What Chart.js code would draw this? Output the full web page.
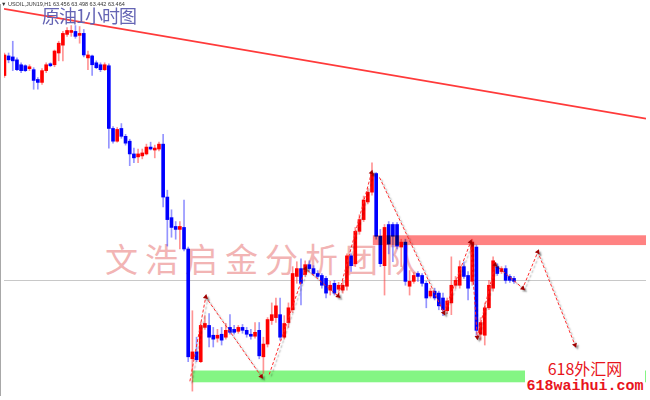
<!DOCTYPE html>
<html><head><meta charset="utf-8">
<script src="https://cdn.jsdelivr.net/npm/chart.js@4/dist/chart.umd.min.js"></script>
<style>
html,body{margin:0;padding:0;background:#fff;}
#wrap{position:relative;width:650px;height:400px;overflow:hidden;background:#fff;}
#wm{position:absolute;left:105px;top:242px;font-family:"Noto Sans CJK SC";font-size:33px;color:#f2b4b4;letter-spacing:7px;white-space:nowrap;z-index:0;line-height:1;}
canvas{position:absolute;left:0;top:0;z-index:1;}
#title{position:absolute;left:42px;top:6px;font-size:18px;letter-spacing:-1px;color:#6464b4;z-index:3;font-family:"Noto Sans CJK SC";line-height:1;white-space:nowrap;}
#hdr{position:absolute;left:1px;top:0px;font-size:5.5px;font-family:"Liberation Sans";color:#333;z-index:3;white-space:nowrap;line-height:8px;}
#site{position:absolute;left:525px;top:355px;width:120px;height:45px;background:#fff;z-index:3;color:#e8141c;}
#s1{position:absolute;left:0;width:120px;top:5px;text-align:center;font-family:"Noto Sans CJK SC";font-size:16px;line-height:1;}
#s2{position:absolute;left:0;width:120px;top:24px;text-align:center;font-family:"Liberation Mono";font-weight:bold;font-size:15px;line-height:1;}
</style></head>
<body>
<div id="wrap">
  <div id="wm">文浩启金分析团队</div>
  <canvas id="c" width="650" height="400"></canvas>
  <div id="hdr">▼ USOIL,JUN19,H1  63.456 63.498 63.442 63.464</div>
  <div id="title">原油1小时图</div>
  <div id="site"><div id="s1">618外汇网</div><div id="s2">618waihui.com</div></div>
</div>
<script>
// ---- candle data (USOIL H1) ----
const open  = [65.55,65.75,65.74,65.71,65.66,65.65,65.62,65.61,65.51,65.48,65.60,65.67,65.66,65.78,65.86,65.97,65.99,66.00,65.96,65.98,
65.73,65.75,65.68,65.66,65.61,65.65,65.01,64.88,65.01,64.93,64.88,64.75,64.72,64.73,64.75,64.82,64.79,64.80,64.85,64.31,
64.10,64.01,63.98,64.00,63.78,62.66,62.73,62.63,62.98,63.00,62.90,62.87,62.91,62.88,62.98,62.96,62.94,62.98,62.95,62.91,
62.89,62.95,62.68,62.81,63.05,63.08,63.11,62.88,63.03,63.16,63.50,63.58,63.52,63.62,63.58,63.53,63.51,63.48,63.36,63.43,
63.37,63.36,63.40,63.71,63.63,63.96,64.08,64.26,64.36,64.55,63.91,63.61,64.03,64.03,64.03,63.80,63.85,63.40,63.45,63.53,
63.51,63.43,63.30,63.35,63.33,63.28,63.15,63.23,63.41,63.41,63.60,63.51,63.45,63.80,62.91,62.90,63.18,63.38,63.60,63.55,
63.58,63.50,63.48];
const high  = [65.78,65.78,65.90,65.73,65.68,65.66,65.66,65.63,65.53,65.62,65.68,65.68,65.81,65.90,66.00,66.04,66.06,66.06,66.05,66.02,
65.80,65.76,65.70,65.68,65.68,65.67,65.03,65.02,65.06,64.95,64.90,64.81,64.80,64.80,64.85,64.87,64.84,64.87,64.95,64.38,
64.18,64.06,64.06,64.28,63.80,63.15,62.88,63.03,63.10,63.12,62.98,62.96,62.98,63.02,63.11,63.00,63.00,63.01,62.98,62.96,
63.03,63.03,62.88,63.08,63.23,63.28,63.28,63.10,63.23,63.60,63.65,63.68,63.66,63.66,63.61,63.56,63.53,63.50,63.45,63.46,
63.44,63.46,63.73,63.73,64.00,64.13,64.32,64.40,64.66,64.56,63.98,64.03,64.06,64.05,64.05,63.88,63.88,63.56,63.54,63.55,
63.53,63.45,63.38,63.38,63.35,63.33,63.28,63.70,63.50,63.66,63.65,63.55,63.88,63.82,63.08,63.23,63.46,63.70,63.63,63.60,
63.61,63.52,63.50];
const low   = [65.53,65.68,65.60,65.60,65.58,65.59,65.60,65.41,65.41,65.46,65.58,65.64,65.64,65.70,65.70,65.95,65.95,65.93,65.88,65.74,
65.61,65.55,65.62,65.59,65.60,64.81,64.86,64.87,64.91,64.84,64.63,64.66,64.66,64.70,64.74,64.79,64.71,64.78,64.21,63.81,
63.90,63.88,63.78,63.76,62.63,62.33,62.63,62.62,62.96,62.78,62.78,62.83,62.80,62.86,62.91,62.91,62.92,62.92,62.88,62.86,
62.87,62.66,62.51,62.78,63.01,63.03,62.85,62.86,62.98,63.13,63.43,63.21,63.50,63.56,63.51,63.48,63.38,63.28,63.31,63.31,
63.31,63.33,63.36,63.55,63.60,63.93,64.06,64.24,64.33,63.88,63.60,63.31,63.73,63.65,63.78,63.60,63.41,63.31,63.43,63.45,
63.40,63.18,63.28,63.26,63.16,63.10,63.12,63.11,63.38,63.38,63.48,63.26,63.41,62.90,62.85,62.80,63.16,63.35,63.51,63.53,
63.43,63.44,63.43];
const close = [65.76,65.71,65.70,65.61,65.60,65.60,65.64,65.50,65.48,65.60,65.66,65.65,65.80,65.88,65.98,66.01,66.01,65.95,65.98,65.76,
65.76,65.66,65.63,65.61,65.66,65.01,64.88,65.00,64.93,64.86,64.75,64.71,64.75,64.76,64.82,64.80,64.81,64.85,64.31,64.08,
64.00,63.98,64.01,63.78,62.68,62.73,62.65,63.00,63.02,62.88,62.86,62.90,62.85,62.95,62.93,62.93,62.98,62.95,62.91,62.89,
62.93,62.69,62.81,63.06,63.11,63.20,62.88,63.02,63.18,63.53,63.58,63.43,63.62,63.58,63.53,63.50,63.41,63.33,63.41,63.33,
63.41,63.41,63.71,63.61,63.96,64.08,64.28,64.36,64.55,63.91,63.63,64.00,63.83,63.91,63.81,63.85,63.45,63.45,63.51,63.50,
63.43,63.28,63.35,63.28,63.20,63.16,63.25,63.41,63.46,63.60,63.50,63.38,63.85,62.95,63.03,63.18,63.41,63.66,63.53,63.58,
63.46,63.46,63.45];

// ---- drawn objects ----
const currentPrice = 63.46;
const trendX = [-0.1, 153.6];
const trendY = [66.23, 65.11];
const resistX = [88.2, 153.6];
const resistY = [63.82, 63.92];
const supportX = [44.9, 153.6];
const supportY = [62.42, 62.54];
const projAX = [44.4, 48.2, 61.5];
const projAY = [62.43, 63.29, 62.48];
const projBX = [63.4, 72.1, 79.9, 87.9];
const projBY = [62.50, 63.58, 63.30, 64.56];
const projCX = [89.8, 105.2, 111.6, 113.2, 117.5, 124.1, 127.7, 136.6];
const projCY = [64.51, 63.13, 63.85, 62.88, 63.62, 63.38, 63.75, 62.80];

const UP = '#ff0000', DOWN = '#0000ff';
const UPW = 'rgba(255,60,60,0.55)', DOWNW = 'rgba(60,60,255,0.55)';

const idx = open.map((_, i) => i);
const isUp = idx.map(i => close[i] >= open[i]);
const wickData = idx.map(i => ({x: i, y: [low[i], high[i]]}));
const bodyData = idx.map(i => ({x: i, y: [open[i], close[i]]}));

function pts(xs, ys){ return xs.map((x, i) => ({x: x, y: ys[i]})); }

function arrowRot(ctx){
  const ds = ctx.dataset, i = ctx.dataIndex, ch = ctx.chart;
  if (!ds || i === 0) return 0;
  const xs = ch.scales.x, ys = ch.scales.y;
  const p0 = ds.data[i-1], p1 = ds.data[i];
  const dx = xs.getPixelForValue(p1.x) - xs.getPixelForValue(p0.x);
  const dy = ys.getPixelForValue(p1.y) - ys.getPixelForValue(p0.y);
  return Math.atan2(dx, -dy) * 180 / Math.PI;
}

function projDataset(xs, ys){
  return {
    type: 'line', data: pts(xs, ys), shadow: true, order: 1,
    borderColor: '#ff2a2a', borderWidth: 1, borderDash: [3, 2],
    pointStyle: 'triangle', rotation: arrowRot,
    pointRadius: ctx => ctx.dataIndex === 0 ? 0 : 3,
    pointBackgroundColor: '#a00000', pointBorderWidth: 0,
    tension: 0, fill: false
  };
}

function zoneRect(scX, scY, xr, yr){
  const x0 = scX.getPixelForValue(xr[0]), x1 = scX.getPixelForValue(xr[1]);
  const y0 = scY.getPixelForValue(yr[1]), y1 = scY.getPixelForValue(yr[0]);
  return [x0, y0, x1 - x0, y1 - y0];
}

const bgPlugin = {
  id: 'bgPlugin',
  beforeDatasetsDraw(chart){
    const {ctx, chartArea: a, scales: {x, y}} = chart;
    ctx.save();
    const py = Math.round(y.getPixelForValue(currentPrice)) + 0.5;
    ctx.strokeStyle = '#c8c8c8'; ctx.lineWidth = 1;
    ctx.beginPath(); ctx.moveTo(a.left, py); ctx.lineTo(a.right, py); ctx.stroke();
    ctx.fillStyle = '#84f584';
    ctx.fillRect(...zoneRect(x, y, supportX, supportY));
    ctx.strokeStyle = '#a8a8a8';
    ctx.beginPath(); ctx.moveTo(0.5, a.top); ctx.lineTo(0.5, a.bottom); ctx.stroke();
    ctx.restore();
  },
  beforeDatasetDraw(chart, args){
    const ds = chart.data.datasets[args.index];
    const {ctx, scales: {x, y}} = chart;
    if (ds.zoneBefore){
      ctx.save();
      ctx.globalCompositeOperation = 'multiply';
      ctx.fillStyle = '#ff8282';
      ctx.fillRect(...zoneRect(x, y, resistX, resistY));
      ctx.restore();
    }
    if (ds.shadow){
      ctx.save();
      ctx.shadowColor = 'rgba(0,0,0,0.35)'; ctx.shadowOffsetX = 2; ctx.shadowOffsetY = 2; ctx.shadowBlur = 1.5;
    }
  },
  afterDatasetDraw(chart, args){
    const ds = chart.data.datasets[args.index];
    if (ds.shadow) chart.ctx.restore();
  }
};

new Chart(document.getElementById('c'), {
  type: 'bar',
  data: {
    datasets: [
      { type: 'line', data: pts(trendX, trendY), borderColor: '#ff3a3a', borderWidth: 1.6, pointRadius: 0, order: 0, fill: false },
      projDataset(projAX, projAY),
      projDataset(projBX, projBY),
      Object.assign(projDataset(projCX, projCY), { zoneBefore: true }),
      { data: bodyData, backgroundColor: idx.map(i => isUp[i] ? UP : DOWN), barThickness: 3, grouped: false, order: 2, borderWidth: 0, borderSkipped: false },
      { data: wickData, backgroundColor: idx.map(i => isUp[i] ? UPW : DOWNW), barThickness: 1, grouped: false, order: 3, borderWidth: 0, borderSkipped: false }
    ]
  },
  options: {
    responsive: false, animation: false, maintainAspectRatio: false,
    layout: { padding: 0 },
    plugins: { legend: { display: false }, tooltip: { enabled: false } },
    scales: {
      x: { type: 'linear', display: false, offset: false, min: -0.1, max: 153.6 },
      y: { type: 'linear', display: false, min: 62.28, max: 66.28 }
    }
  },
  plugins: [bgPlugin]
});
</script>
</body></html>
